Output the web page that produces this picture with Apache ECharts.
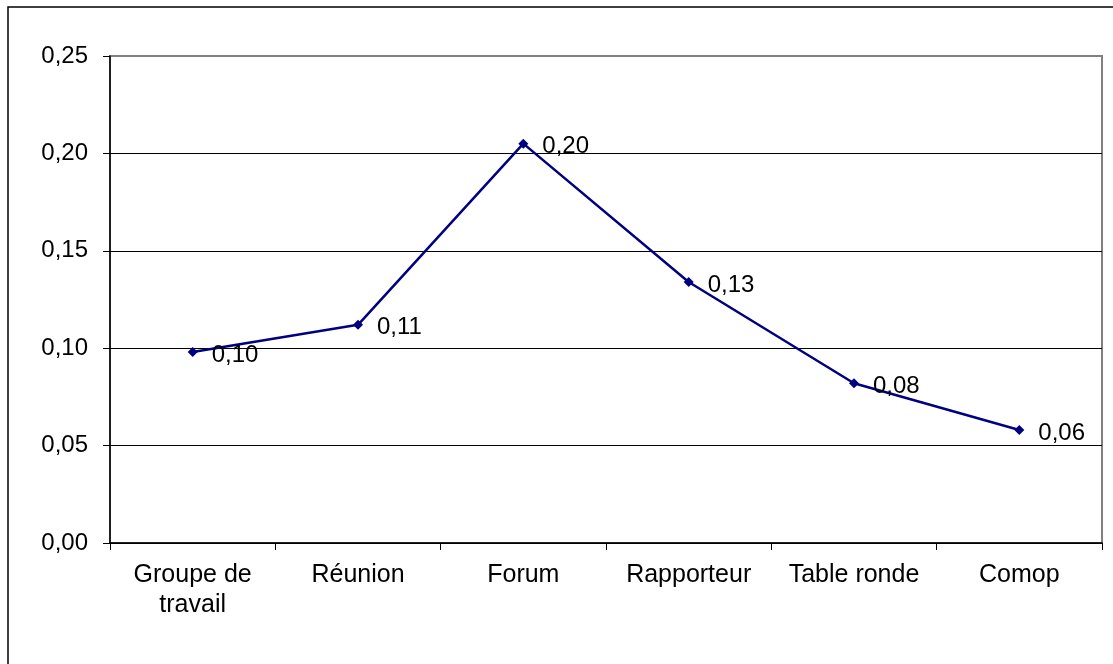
<!DOCTYPE html>
<html>
<head>
<meta charset="utf-8">
<script src="https://cdn.jsdelivr.net/npm/echarts@6/dist/echarts.min.js"></script>
<style>
  html, body { margin: 0; padding: 0; background: #fff; }
  #chart { width: 1113px; height: 664px; }
</style>
</head>
<body>
<div id="chart"></div>
<script>
const categories = ['Groupe de\ntravail', 'Réunion', 'Forum', 'Rapporteur', 'Table ronde', 'Comop'];
const values = [0.098, 0.112, 0.205, 0.134, 0.082, 0.058];
const yTicks = [0, 0.05, 0.10, 0.15, 0.20, 0.25];

const fmt = v => v.toFixed(2).replace('.', ',');
const font = 'Liberation Sans, Arial, sans-serif';

const chart = echarts.init(document.getElementById('chart'));
chart.setOption({
  animation: false,
  grid: { left: 110, top: 56, right: 11, bottom: 121, show: true, borderColor: '#808080', borderWidth: 2 },
  graphic: [{
    type: 'rect',
    shape: { x: 8, y: 7, width: 1200, height: 800 },
    style: { fill: 'none', stroke: '#000', lineWidth: 1.5 },
    silent: true
  }],
  xAxis: {
    type: 'category',
    data: categories,
    boundaryGap: true,
    axisLine: { lineStyle: { color: '#000', width: 1.5 } },
    axisTick: { show: true, length: 7, lineStyle: { color: '#000' } },
    axisLabel: { color: '#000', fontFamily: font, fontSize: 25, lineHeight: 30, margin: 17, interval: 0 },
    splitLine: { show: false }
  },
  yAxis: {
    type: 'value',
    min: yTicks[0],
    max: yTicks[yTicks.length - 1],
    interval: 0.05,
    axisLine: { show: true, lineStyle: { color: '#000', width: 1.5 } },
    axisTick: { show: true, length: 7, lineStyle: { color: '#000' } },
    axisLabel: { color: '#000', fontFamily: font, fontSize: 24, margin: 22, formatter: v => fmt(v) },
    splitLine: { show: true, lineStyle: { color: ['#000', '#000', '#000', '#000', '#000', '#808080'], width: 1 } }
  },
  series: [{
    type: 'line',
    data: values,
    symbol: 'diamond',
    symbolSize: 10,
    lineStyle: { color: '#000080', width: 2.5 },
    itemStyle: { color: '#000080' },
    label: {
      show: true,
      position: 'right',
      distance: 14,
      offset: [0, 3],
      color: '#000',
      fontFamily: font,
      fontSize: 24,
      formatter: p => fmt(p.value)
    }
  }]
});
</script>
</body>
</html>
